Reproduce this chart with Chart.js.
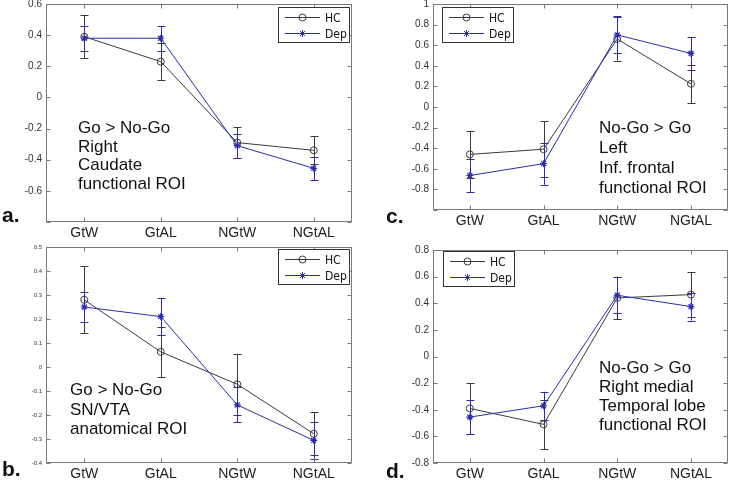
<!DOCTYPE html>
<html>
<head>
<meta charset="utf-8">
<script src="https://cdn.jsdelivr.net/npm/chart.js@4.4.1/dist/chart.umd.min.js"></script>
<style>
body { margin: 0; background: #fff; width: 733px; height: 482px; position: relative; overflow: hidden; font-family: 'Liberation Sans', Arial, sans-serif; }
canvas { position: absolute; }
.note { position: absolute; font-size: 17px; color: #111; white-space: pre; }
.tag { position: absolute; font-size: 21px; font-weight: bold; color: #111; line-height: 24px; }
</style>
</head>
<body>
<canvas id="chartA" width="366" height="260" style="left:0;top:-10px"></canvas>
<canvas id="chartC" width="365" height="260" style="left:368px;top:-10px"></canvas>
<canvas id="chartB" width="366" height="250" style="left:0;top:232px"></canvas>
<canvas id="chartD" width="365" height="250" style="left:368px;top:232px"></canvas>

<div class="note" style="left:78px;top:119px;line-height:18.7px">Go &gt; No-Go
Right
Caudate
functional ROI</div>
<div class="note" style="left:599px;top:118px;line-height:20px">No-Go &gt; Go
Left
Inf. frontal
functional ROI</div>
<div class="note" style="left:70px;top:380px;line-height:19.5px">Go &gt; No-Go
SN/VTA
anatomical ROI</div>
<div class="note" style="left:599px;top:358px;line-height:19px">No-Go &gt; Go
Right medial
Temporal lobe
functional ROI</div>

<div class="tag" style="left:2px;top:203px">a.</div>
<div class="tag" style="left:386px;top:204px">c.</div>
<div class="tag" style="left:2px;top:457px">b.</div>
<div class="tag" style="left:386px;top:459px">d.</div>

<script>
const categories = ['GtW', 'GtAL', 'NGtW', 'NGtAL'];
const seriesNames = ['HC', 'Dep'];

// a. Go > No-Go, right caudate
const hcA = [0.39, 0.23, -0.29, -0.34];
const hcErrA = [0.14, 0.12, 0.10, 0.09];
const depA = [0.38, 0.38, -0.31, -0.455];
const depErrA = [0.08, 0.08, 0.078, 0.075];
const yTicksA = [-0.8, -0.6, -0.4, -0.2, 0, 0.2, 0.4, 0.6];

// c. No-Go > Go, left inf. frontal
const hcC = [-0.46, -0.41, 0.66, 0.225];
const hcErrC = [0.23, 0.27, 0.21, 0.185];
const depC = [-0.665, -0.55, 0.70, 0.52];
const depErrC = [0.16, 0.205, 0.18, 0.16];
const yTicksC = [-1, -0.8, -0.6, -0.4, -0.2, 0, 0.2, 0.4, 0.6, 0.8, 1];

// b. Go > No-Go, SN/VTA
const hcB = [0.28, 0.063, -0.072, -0.278];
const hcErrB = [0.14, 0.105, 0.127, 0.09];
const depB = [0.25, 0.21, -0.158, -0.306];
const depErrB = [0.062, 0.078, 0.073, 0.076];
const yTicksB = [-0.4, -0.3, -0.2, -0.1, 0, 0.1, 0.2, 0.3, 0.4, 0.5];

// d. No-Go > Go, right medial temporal lobe
const hcD = [-0.39, -0.51, 0.44, 0.465];
const hcErrD = [0.19, 0.185, 0.16, 0.17];
const depD = [-0.455, -0.37, 0.46, 0.375];
const depErrD = [0.125, 0.105, 0.135, 0.105];
const yTicksD = [-0.8, -0.6, -0.4, -0.2, 0, 0.2, 0.4, 0.6, 0.8];

const HC_COLOR = '#3a3a3a';
const DEP_COLOR = '#2c2ca8';

function drawMarker(ctx, style, x, y, r) {
    ctx.beginPath();
    if (style === 'circle') {
        ctx.arc(x, y, r, 0, Math.PI * 2);
    } else {
        for (let k = 0; k < 4; k++) {
            const a = k * Math.PI / 4;
            ctx.moveTo(x - r * Math.cos(a), y - r * Math.sin(a));
            ctx.lineTo(x + r * Math.cos(a), y + r * Math.sin(a));
        }
    }
    ctx.stroke();
}

// error bars, box with inward ticks, legend
const matlabLook = {
    id: 'matlabLook',
    afterDatasetsDraw(chart) {
        const ctx = chart.ctx;
        const ys = chart.scales.y;
        chart.data.datasets.forEach((ds, i) => {
            const meta = chart.getDatasetMeta(i);
            ctx.save();
            ctx.strokeStyle = ds.borderColor;
            ctx.lineWidth = 1;
            meta.data.forEach((pt, j) => {
                const x = Math.round(pt.x) + 0.5;
                const top = ys.getPixelForValue(ds.data[j] + ds.errors[j]);
                const bot = ys.getPixelForValue(ds.data[j] - ds.errors[j]);
                ctx.beginPath();
                ctx.moveTo(x, top); ctx.lineTo(x, bot);
                ctx.moveTo(x - 4, Math.round(top) + 0.5); ctx.lineTo(x + 4, Math.round(top) + 0.5);
                ctx.moveTo(x - 4, Math.round(bot) + 0.5); ctx.lineTo(x + 4, Math.round(bot) + 0.5);
                ctx.stroke();
            });
            ctx.restore();
        });
    },
    afterDraw(chart, args, opts) {
        const ctx = chart.ctx;
        const a = chart.chartArea;
        const xs = chart.scales.x, ys = chart.scales.y;
        const l = Math.round(a.left) + 0.5, r = Math.round(a.right) - 0.5;
        const t = Math.round(a.top) + 0.5, b = Math.round(a.bottom) - 0.5;
        ctx.save();
        ctx.strokeStyle = '#7a7a7a';
        ctx.lineWidth = 1;
        ctx.strokeRect(l, t, r - l, b - t);
        ctx.beginPath();
        categories.forEach((c, i) => {
            const x = Math.round(xs.getPixelForValue(i)) + 0.5;
            ctx.moveTo(x, b); ctx.lineTo(x, b - 4);
            ctx.moveTo(x, t); ctx.lineTo(x, t + 4);
        });
        ys.ticks.forEach(tk => {
            const y = Math.round(ys.getPixelForValue(tk.value)) + 0.5;
            ctx.moveTo(l, y); ctx.lineTo(l + 4, y);
            ctx.moveTo(r, y); ctx.lineTo(r - 4, y);
        });
        ctx.stroke();

        // legend box
        const w = 71, h = 35;
        const bx = opts.side === 'right' ? Math.round(a.right) - opts.inset - w : Math.round(a.left) + opts.inset;
        const by = Math.round(a.top) + opts.top;
        ctx.fillStyle = '#fff';
        ctx.fillRect(bx, by, w, h);
        ctx.strokeStyle = '#333';
        ctx.strokeRect(bx + 0.5, by + 0.5, w, h);
        ctx.font = '12px "Liberation Sans Narrow", "DejaVu Sans Condensed", sans-serif';
        ctx.textBaseline = 'middle';
        chart.data.datasets.forEach((ds, i) => {
            const y = by + 10.5 + i * 16;
            ctx.strokeStyle = ds.borderColor;
            ctx.beginPath();
            ctx.moveTo(bx + 7, y); ctx.lineTo(bx + 42, y);
            ctx.stroke();
            drawMarker(ctx, ds.pointStyle, bx + 24.5, y, 3.5);
            ctx.fillStyle = '#111';
            ctx.fillText(ds.label, bx + 47, y + 1);
        });
        ctx.restore();
    }
};

function fmt(v) {
    return String(Number(v.toFixed(1)));
}

function makePanel(id, hc, hcErr, dep, depErr, yTicks, cfg) {
    const ctx = document.getElementById(id).getContext('2d');
    return new Chart(ctx, {
        type: 'line',
        data: {
            labels: categories,
            datasets: [
                {
                    label: seriesNames[0],
                    data: hc,
                    errors: hcErr,
                    borderColor: HC_COLOR,
                    borderWidth: 1,
                    pointStyle: 'circle',
                    pointRadius: 3.5,
                    pointBorderColor: HC_COLOR,
                    pointBackgroundColor: 'rgba(0,0,0,0)',
                    pointBorderWidth: 1,
                    tension: 0,
                    fill: false,
                    order: 2
                },
                {
                    label: seriesNames[1],
                    data: dep,
                    errors: depErr,
                    borderColor: DEP_COLOR,
                    borderWidth: 1,
                    pointStyle: 'star',
                    pointRadius: 3.5,
                    pointBorderColor: DEP_COLOR,
                    pointBorderWidth: 1.2,
                    tension: 0,
                    fill: false,
                    order: 1
                }
            ]
        },
        options: {
            responsive: false,
            animation: false,
            events: [],
            layout: { padding: cfg.padding },
            plugins: {
                legend: { display: false },
                tooltip: { enabled: false },
                matlabLook: cfg.legend
            },
            scales: {
                x: {
                    type: 'category',
                    offset: true,
                    grid: { display: false, drawTicks: false },
                    border: { display: false },
                    ticks: {
                        padding: 3,
                        color: '#222',
                        maxRotation: 0,
                        autoSkip: false,
                        font: { family: 'Liberation Sans', size: 14 }
                    },
                    afterFit: s => { s.height = cfg.xh; }
                },
                y: {
                    min: yTicks[0],
                    max: yTicks[yTicks.length - 1],
                    grid: { display: false, drawTicks: false },
                    border: { display: false },
                    afterBuildTicks: s => { s.ticks = yTicks.map(v => ({ value: v })); },
                    ticks: {
                        padding: 4,
                        color: '#333',
                        font: { family: 'Liberation Sans', size: cfg.yFont, lineHeight: 1 },
                        callback: v => (cfg.hideTick !== undefined && Math.abs(v - cfg.hideTick) < 1e-9) ? '' : fmt(v)
                    },
                    afterFit: s => { s.width = cfg.yw; }
                }
            }
        },
        plugins: [matlabLook]
    });
}

makePanel('chartA', hcA, hcErrA, depA, depErrA, yTicksA, {
    padding: { top: 14, right: 14, bottom: 8, left: 0 },
    xh: 20, yw: 46, yFont: 10, hideTick: -0.8,
    legend: { side: 'right', inset: 3, top: 3 }
});
makePanel('chartC', hcC, hcErrC, depC, depErrC, yTicksC, {
    padding: { top: 14, right: 2, bottom: 20, left: 0 },
    xh: 20, yw: 65, yFont: 10, hideTick: -1,
    legend: { side: 'left', inset: 9, top: 3 }
});
makePanel('chartB', hcB, hcErrB, depB, depErrB, yTicksB, {
    padding: { top: 15, right: 14, bottom: 0, left: 0 },
    xh: 19, yw: 46, yFont: 6,
    legend: { side: 'right', inset: 3, top: 2 }
});
makePanel('chartD', hcD, hcErrD, depD, depErrD, yTicksD, {
    padding: { top: 18, right: 2, bottom: 0, left: 0 },
    xh: 19, yw: 65, yFont: 10,
    legend: { side: 'left', inset: 10, top: 1 }
});
</script>
</body>
</html>
